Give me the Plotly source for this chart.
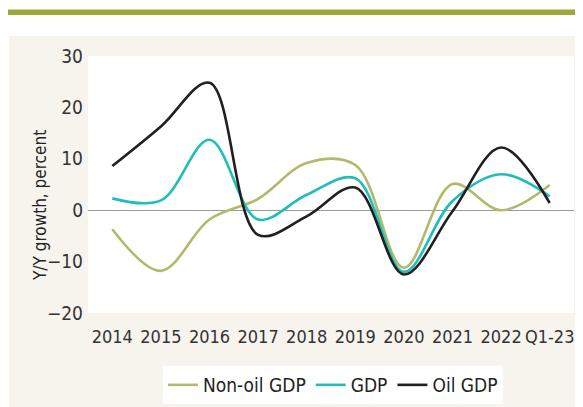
import plotly.graph_objects as go

categories = ["2014", "2015", "2016", "2017", "2018", "2019", "2020", "2021", "2022", "Q1-23"]
non_oil_gdp = [-3.7, -11.8, -1.8, 2.2, 9.2, 8.8, -11.2, 5.1, 0.0, 4.9]
gdp = [2.3, 1.9, 13.7, -1.8, 3.0, 6.2, -12.0, 1.8, 7.0, 2.7]
oil_gdp = [8.6, 16.3, 24.8, -4.8, -1.2, 4.4, -12.5, -0.2, 12.2, 1.4]
y_ticks = [-20, -10, 0, 10, 20, 30]
y_title = "Y/Y growth, percent"

FONT = "DejaVu Sans Condensed, Liberation Sans Narrow, sans-serif"
# page body adds an 8px offset, so the figure is laid out 8px up/left of the reference
W, H = 575, 399
ML, MR, MT, MB = 80, 9, 48, 94
pw, ph = W - ML - MR, H - MT - MB

def px_x(p):
    return (p - ML) / pw

def px_y(p):
    return 1 - (p - MT) / ph

fig = go.Figure()
series = [("Non-oil GDP", non_oil_gdp, "#b3b96b"),
          ("GDP", gdp, "#1fbdbb"),
          ("Oil GDP", oil_gdp, "#231f20")]
for name, vals, col in series:
    fig.add_trace(go.Scatter(x=categories, y=vals, name=name, mode="lines",
                             line=dict(color=col, width=2.6, shape="spline", smoothing=1.0)))

shapes = [
    dict(type="rect", xref="paper", yref="paper", x0=px_x(1), x1=px_x(W), y0=px_y(H), y1=px_y(28),
         fillcolor="#f7f3ed", line=dict(width=0), layer="below"),
    dict(type="rect", xref="paper", yref="paper", x0=0, x1=1, y0=0, y1=1,
         fillcolor="white", line=dict(width=0), layer="below"),
    dict(type="rect", xref="paper", yref="paper", x0=px_x(0), x1=px_x(W), y0=px_y(7), y1=px_y(1.5),
         fillcolor="#9ca83a", line=dict(width=0), layer="below"),
]

fig.update_layout(
    width=W, height=H,
    margin=dict(l=ML, r=MR, t=MT, b=MB, autoexpand=False),
    paper_bgcolor="white",
    plot_bgcolor="rgba(0,0,0,0)",
    font=dict(family=FONT, color="#333333", size=18),
    showlegend=True,
    legend=dict(orientation="h", xref="container", yref="container",
                x=325 / W, xanchor="center", y=1 - 358 / H, yanchor="top",
                bgcolor="white", font=dict(size=19, family=FONT, color="#222222"),
                itemwidth=30, tracegroupgap=0),
    shapes=shapes,
    annotations=[dict(text=y_title, xref="paper", yref="paper", x=px_x(32), y=px_y(198),
                      xanchor="center", yanchor="middle", textangle=-90, showarrow=False,
                      font=dict(size=17, family=FONT, color="#222222"))],
    xaxis=dict(type="category", range=[-0.5, 9.5], showgrid=False, showline=False, zeroline=False,
               ticks="", tickangle=0, automargin=False,
               tickfont=dict(size=18, family=FONT, color="#333333"), ticklabelstandoff=11),
    yaxis=dict(range=[-20, 30], tickvals=y_ticks, showgrid=False, showline=False, automargin=False,
               zeroline=True, zerolinecolor="#9a9a9a", zerolinewidth=1.2,
               ticks="", tickfont=dict(size=19, family=FONT, color="#333333"), ticklabelstandoff=4),
)

fig.write_html("out.html")
